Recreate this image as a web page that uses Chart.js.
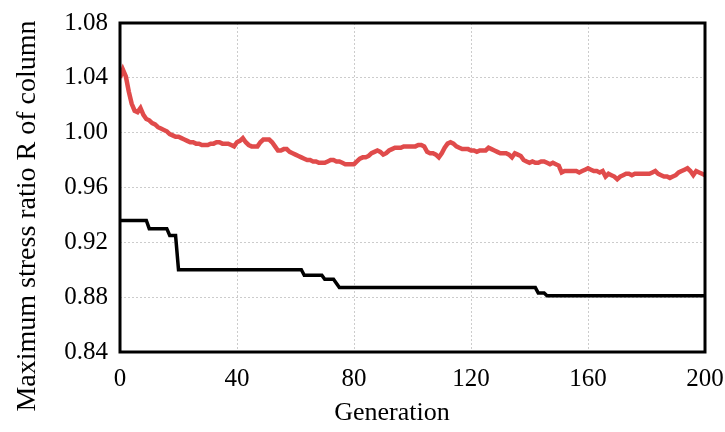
<!DOCTYPE html>
<html><head><meta charset="utf-8">
<script src="https://cdn.jsdelivr.net/npm/chart.js@4/dist/chart.umd.min.js"></script>
<style>html,body{margin:0;padding:0;background:#fff}#wrap{width:725px;height:432px}</style>
</head><body><div id="wrap"><canvas id="c" width="725" height="432"></canvas></div>
<script>
// ---- data ----
const xTicks = [0, 40, 80, 120, 160, 200];
const yTicks = [0.84, 0.88, 0.92, 0.96, 1.00, 1.04, 1.08];
const xTitle = "Generation";
const yTitle = "Maximum stress ratio R of column";

const redValues = [
 1.040,1.046,1.041,1.030,1.021,1.016,1.015,1.018,1.013,1.010,
 1.009,1.007,1.006,1.004,1.003,1.002,1.001,0.999,0.998,0.997,
 0.997,0.996,0.995,0.994,0.993,0.993,0.992,0.992,0.991,0.991,
 0.991,0.992,0.992,0.993,0.993,0.992,0.992,0.992,0.991,0.990,
 0.993,0.994,0.996,0.993,0.991,0.990,0.990,0.990,0.993,0.995,
 0.995,0.995,0.993,0.990,0.987,0.987,0.988,0.988,0.986,0.985,
 0.984,0.983,0.982,0.981,0.980,0.980,0.979,0.979,0.978,0.978,
 0.978,0.979,0.980,0.980,0.979,0.979,0.978,0.977,0.977,0.977,
 0.977,0.979,0.981,0.982,0.982,0.983,0.985,0.986,0.987,0.986,
 0.984,0.985,0.987,0.988,0.989,0.989,0.989,0.990,0.990,0.990,
 0.990,0.990,0.991,0.991,0.990,0.986,0.985,0.985,0.984,0.982,
 0.985,0.989,0.992,0.993,0.992,0.990,0.989,0.988,0.988,0.988,
 0.987,0.987,0.986,0.987,0.987,0.987,0.989,0.988,0.987,0.986,
 0.985,0.985,0.985,0.984,0.982,0.985,0.984,0.983,0.980,0.979,
 0.978,0.979,0.978,0.978,0.979,0.979,0.978,0.977,0.978,0.977,
 0.976,0.971,0.972,0.972,0.972,0.972,0.972,0.971,0.972,0.973,
 0.974,0.973,0.972,0.972,0.971,0.972,0.968,0.970,0.969,0.968,
 0.966,0.968,0.969,0.970,0.970,0.969,0.970,0.970,0.970,0.970,
 0.970,0.970,0.971,0.972,0.970,0.969,0.968,0.968,0.967,0.968,
 0.969,0.971,0.972,0.973,0.974,0.972,0.969,0.972,0.971,0.970,
 0.969
];
const redGens = redValues.map((v, i) => i);

const blackGens   = [0,     9,     10,    16,    17,    19,    20,    62,    63,    69,    70,    73,    75,    142,   143,   145,   146,   200];
const blackValues = [0.936, 0.936, 0.930, 0.930, 0.925, 0.925, 0.900, 0.900, 0.896, 0.896, 0.893, 0.893, 0.887, 0.887, 0.883, 0.883, 0.881, 0.881];

// ---- chart ----
const toPts = (xs, ys) => xs.map((x, i) => ({x: x, y: ys[i]}));
const FONT = "'Liberation Serif', 'Times New Roman', serif";

const frame = {
  id: 'frame',
  afterDatasetsDraw(chart) {
    const {ctx, chartArea: a} = chart;
    ctx.save();
    ctx.strokeStyle = '#000';
    ctx.lineWidth = 3;
    ctx.strokeRect(a.left, a.top, a.right - a.left, a.bottom - a.top);
    ctx.restore();
  },
  afterDraw(chart) {
    const {ctx} = chart;
    ctx.save();
    ctx.fillStyle = '#000';
    ctx.font = "26px " + FONT;
    ctx.textAlign = 'center';
    ctx.textBaseline = 'middle';
    ctx.fillText(xTitle, 392, 413);
    ctx.translate(28, 216);
    ctx.rotate(-Math.PI / 2);
    ctx.font = "28px " + FONT;
    ctx.fillText(yTitle, 0, 0);
    ctx.restore();
  }
};

new Chart(document.getElementById('c'), {
  type: 'line',
  data: {
    datasets: [
      { label: 'red', data: toPts(redGens, redValues), borderColor: '#e04b4b', borderWidth: 4.5, pointRadius: 0, tension: 0, fill: false },
      { label: 'black', data: toPts(blackGens, blackValues), borderColor: '#000', borderWidth: 3.5, pointRadius: 0, tension: 0, fill: false }
    ]
  },
  options: {
    responsive: false,
    animation: false,
    devicePixelRatio: 1,
    layout: { padding: { top: 23, right: 20, left: 0, bottom: 0 } },
    plugins: { legend: { display: false }, tooltip: { enabled: false } },
    scales: {
      x: {
        type: 'linear', min: 0, max: 200,
        afterBuildTicks(s) { s.ticks = xTicks.map(v => ({value: v})); },
        afterFit(s) { s.height = 80; s.paddingLeft = 0; s.paddingRight = 0; },
        ticks: { color: '#000', font: { family: FONT, size: 25 }, padding: 12, maxRotation: 0 },
        grid: { color: '#cccccc', lineWidth: 1, drawTicks: false },
        border: { display: false, dash: [2, 2] }
      },
      y: {
        type: 'linear', min: 0.84, max: 1.08,
        afterBuildTicks(s) { s.ticks = yTicks.map(v => ({value: v})); },
        afterFit(s) { s.width = 120; s.paddingTop = 0; s.paddingBottom = 0; },
        ticks: { color: '#000', font: { family: FONT, size: 25 }, padding: 12, callback: v => Number(v).toFixed(2) },
        grid: { color: '#cccccc', lineWidth: 1, drawTicks: false },
        border: { display: false, dash: [2, 2] }
      }
    }
  },
  plugins: [frame]
});
</script>
</body></html>
